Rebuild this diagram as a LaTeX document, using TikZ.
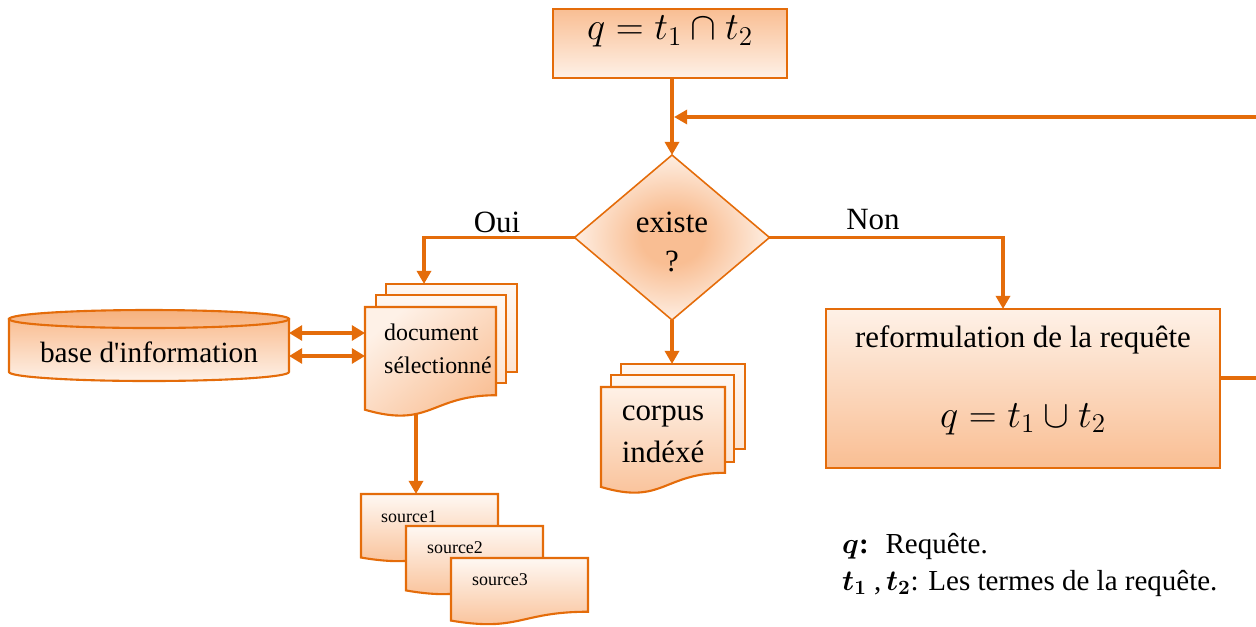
\RequirePackage{fix-cm}
\documentclass[tikz,border=0pt]{standalone}
\usepackage{amsmath}
\usepackage{fontspec}
\setmainfont{Liberation Serif}
\usetikzlibrary{shapes.geometric,arrows.meta,calc,fit}

\definecolor{oline}{HTML}{E46C0A}
\definecolor{ofill}{HTML}{F9BE93}
\definecolor{olight}{HTML}{FEF1E7}

% soft orange core fading to the edges of the decision diamond
\pgfdeclareradialshading{diamshade}{\pgfpoint{0bp}{0bp}}{%
  color(0bp)=(ofill); color(8bp)=(ofill); color(26bp)=(olight); color(50bp)=(olight!40!white)}

\tikzset{
  conn/.style={draw=oline, line width=2.1pt, -{Triangle[length=7.5pt,width=8pt]}},
  dbl/.style={draw=oline, line width=2.1pt,
    {Triangle[length=7.5pt,width=8.5pt]}-{Triangle[length=7.5pt,width=8.5pt]}},
  area/.style={inner sep=0pt, outer sep=0pt},
  box/.style={draw=oline, line width=1.2pt},
  sheetfront/.style={draw=oline, line width=1.2pt, top color=olight, bottom color=ofill},
  sheetback/.style={area, draw=oline, line width=1.2pt, top color=olight!50!white, bottom color=olight!75!ofill},
  srcsheet/.style={draw=oline, line width=1.2pt, top color=olight!50!white, bottom color=ofill},
  big/.style={font=\fontsize{17.6}{24}\selectfont},
  mathbig/.style={font=\fontsize{22}{26}\selectfont},
  docfont/.style={font=\fontsize{13.6}{18.8}\selectfont},
  srcfont/.style={font=\fontsize{10.2}{12}\selectfont},
  legfont/.style={font=\fontsize{16.5}{20}\selectfont},
}

% flowchart "document" outline with a wavy lower edge, drawn over a named node
\newcommand\wavysheet[2]{%
  \path[#2] let \p1=(#1.north west), \p2=(#1.south east) in
    (\x1,\y1) -- (\x2,\y1) -- (\x2,{\y1+0.802*(\y2-\y1)})
    .. controls ({0.5*(\x1+\x2)},{\y1+0.802*(\y2-\y1)}) and ({0.5*(\x1+\x2)},{\y1+1.1075*(\y2-\y1)})
    .. (\x1,{\y1+0.934*(\y2-\y1)}) -- cycle;}

\begin{document}
\begin{tikzpicture}[x=0.02cm,y=-0.02cm]
\useasboundingbox (0,0) rectangle (1256,626);

% query box
\node[area, box, top color=ofill, bottom color=olight, mathbig,
      fit={(553,9)(787,78)}] (query) {$q = t_1 \cap t_2$};

% decision
\node[diamond, area, minimum width=3.9cm, minimum height=3.3cm,
      draw=oline, line width=0.9pt, shading=diamshade] (dia) at (672,237.5) {};
\node[big] (ex1) at (672,222) {existe};
\node[big] (ex2) at (672,261) {?};

% reformulation box
\node[area, box, top color=olight, bottom color=ofill, fit={(826,309)(1220,468)}] (reform) {};
\node[big] (rf1) at (1023,340) {reformulation de la requête};
\node[mathbig] (rf2) at (1023,419) {$q = t_1 \cup t_2$};

% information base (cylinder)
\node[area, fit={(9,310)(289,381)}] (cyl) {};
\path[draw=oline, line width=1.2pt, top color=ofill, bottom color=olight]
  (9,319) -- (9,372) arc[start angle=180, end angle=360, x radius=2.8cm, y radius=0.18cm]
  -- (289,319) -- cycle;
\path[draw=oline, line width=1.2pt, top color=ofill!85!oline, bottom color=ofill]
  (149,319) ellipse[x radius=2.8cm, y radius=0.18cm];
\node[font=\fontsize{16.7}{20}\selectfont] (cyltxt) at (149,352) {base d\textquotesingle information};

% selected documents (stack)
\node[sheetback, fit={(386,284)(517,372)}] (dback) {};
\node[sheetback, fit={(376,295)(506,383)}] (dmid) {};
\node[area, fit={(365,307)(496,417)}] (dfront) {};
\wavysheet{dfront}{sheetfront, shading angle=40}
\node[docfont, align=left, anchor=west] (dtxt) at (378,349) {document\\sélectionné};

% indexed corpus (stack)
\node[sheetback, fit={(621,364)(745,449)}] (cback) {};
\node[sheetback, fit={(611,375)(734,462)}] (cmid) {};
\node[area, fit={(601,387)(725,494)}] (cfront) {};
\wavysheet{cfront}{sheetfront}
\node[big, align=center] (ctxt) at (663,434) {corpus\\indéxé};

% sources
\node[area, fit={(361,494)(498,562)}] (s1) {};
\wavysheet{s1}{srcsheet}
\node[srcfont] (s1t) at (409,517) {source1};
\node[area, fit={(406,526)(543,595)}] (s2) {};
\wavysheet{s2}{srcsheet}
\node[srcfont] (s2t) at (455,548) {source2};
\node[area, fit={(451,558)(588,625)}] (s3) {};
\wavysheet{s3}{srcsheet}
\node[srcfont] (s3t) at (500,580) {source3};

% branch labels
\node[big] (oui) at (497,222) {Oui};
\node[big] (non) at (873,220) {Non};

% connector end points
\coordinate (ouiend) at (424,284);
\coordinate (nonend) at (1003,309);
\coordinate (loopr) at (1258,378);
\coordinate (loopend) at (674,117);
\coordinate (dlow) at (416,413);
\coordinate (a1) at (0,333);
\coordinate (a2) at (0,356);

% connectors
\draw[conn] (query.south -| dia.north) -- (dia.north);
\draw[conn] (dia.west) -| (ouiend);
\draw[conn] (dia.east) -| (nonend);
\draw[conn] (dia.south) -- (dia.south |- cback.north);
\draw[conn] (reform.east |- loopr) -- (loopr) |- (loopend);
\draw[conn] (dlow) -- (dlow |- s1.north);
\draw[dbl] (cyl.east |- a1) -- (dfront.west |- a1);
\draw[dbl] (cyl.east |- a2) -- (dfront.west |- a2);

% legend
\node[legfont, anchor=west] (leg1) at (836,546) {$\boldsymbol{q}$\textbf{:}~ Requête.};
\node[legfont, anchor=west] (leg2) at (836,583) {$\boldsymbol{t_1}$ ,$\,\boldsymbol{t_2}$: Les termes de la requête.};
\end{tikzpicture}
\end{document}
